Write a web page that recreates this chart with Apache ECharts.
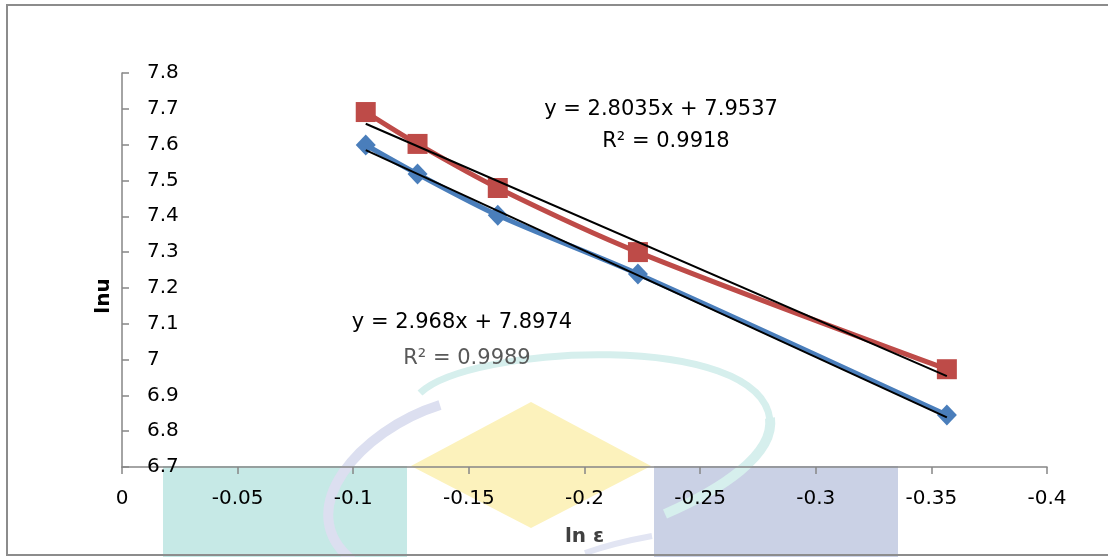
<!DOCTYPE html>
<html>
<head>
<meta charset="utf-8">
<script src="https://cdn.jsdelivr.net/npm/echarts@6/dist/echarts.min.js"></script>
<style>
  html, body { margin: 0; padding: 0; background: #ffffff; }
  #chart { width: 1108px; height: 557px; }
</style>
</head>
<body>
<div id="chart"></div>
<script>
// ln ε on the horizontal axis, ln u on the vertical axis
const lnStrain = [-0.1054, -0.1278, -0.1625, -0.2231, -0.3567];
const lnuBlue = [7.599, 7.518, 7.403, 7.239, 6.845];
const lnuRed = [7.691, 7.602, 7.479, 7.300, 6.973];

// linear trendlines: slope, intercept, R²
const fitSlope = [2.968, 2.8035];
const fitIntercept = [7.8974, 7.9537];
const fitR2 = ['0.9989', '0.9918'];

const xTickLabels = ['0', '-0.05', '-0.1', '-0.15', '-0.2', '-0.25', '-0.3', '-0.35', '-0.4'];
const yTickLabels = ['6.7', '6.8', '6.9', '7', '7.1', '7.2', '7.3', '7.4', '7.5', '7.6', '7.7', '7.8'];

const FONT = '"DejaVu Sans", sans-serif';

const pairs = ys => lnStrain.map((x, i) => [x, ys[i]]);
const trend = k => {
  const x0 = lnStrain[0], x1 = lnStrain[lnStrain.length - 1];
  return [[x0, fitSlope[k] * x0 + fitIntercept[k]], [x1, fitSlope[k] * x1 + fitIntercept[k]]];
};

const eqText = k => 'y = ' + fitSlope[k] + 'x + ' + fitIntercept[k];
const r2Text = k => 'R\u00B2 = ' + fitR2[k];

function label(text, x, y, size, color, weight) {
  return {
    type: 'text', x: x, y: y, z: 50,
    style: {
      text: text, fill: color, fontSize: size, fontFamily: FONT, fontWeight: weight || 'normal',
      align: 'center', verticalAlign: 'middle', textAlign: 'center', textVerticalAlign: 'middle'
    }
  };
}

// faint emblem behind the plot
const emblem = [
  { type: 'rect', z: -10, shape: { x: 163, y: 466, width: 244, height: 95 }, style: { fill: '#c6e9e6' } },
  { type: 'rect', z: -10, shape: { x: 654, y: 466, width: 244, height: 95 }, style: { fill: '#cad1e5' } },
  { type: 'polygon', z: -10, shape: { points: [[411, 466], [531, 402], [651, 466], [531, 528]] }, style: { fill: '#fcf2bc' } },
  { type: 'bezierCurve', z: -9, shape: { x1: 420, y1: 393, cpx1: 470, cpy1: 345, cpx2: 760, cpy2: 330, x2: 770, y2: 420 },
    style: { stroke: '#d6efed', lineWidth: 7, fill: null } },
  { type: 'bezierCurve', z: -9, shape: { x1: 770, y1: 418, cpx1: 775, cpy1: 455, cpx2: 720, cpy2: 490, x2: 665, y2: 514 },
    style: { stroke: '#d6efed', lineWidth: 10, fill: null } },
  { type: 'bezierCurve', z: -9, shape: { x1: 440, y1: 405, cpx1: 360, cpy1: 430, cpx2: 290, cpy2: 510, x2: 352, y2: 560 },
    style: { stroke: '#dcdff0', lineWidth: 10, fill: null } },
  { type: 'bezierCurve', z: -9, shape: { x1: 585, y1: 553, cpx1: 605, cpy1: 546, cpx2: 630, cpy2: 540, x2: 652, y2: 536 },
    style: { stroke: '#e2e5f3', lineWidth: 6, fill: null } }
];

const chart = echarts.init(document.getElementById('chart'), null, { renderer: 'canvas' });

chart.setOption({
  animation: false,
  backgroundColor: '#ffffff',
  grid: { left: 122, right: 61, top: 73, bottom: 90 },
  xAxis: {
    type: 'value',
    min: -0.4, max: 0, interval: 0.05,
    inverse: true,
    name: 'ln \u03B5',
    nameLocation: 'middle',
    nameGap: 60,
    nameTextStyle: { fontFamily: FONT, fontSize: 20, fontWeight: 'bold', color: '#404040' },
    axisLine: { show: true, onZero: false, lineStyle: { color: '#868686', width: 1.5 } },
    axisTick: { show: true, inside: false, length: 7, lineStyle: { color: '#868686', width: 1.5 } },
    axisLabel: {
      margin: 22, fontFamily: FONT, fontSize: 20, color: '#000000',
      formatter: v => xTickLabels[Math.round(-v / 0.05)]
    },
    splitLine: { show: false }
  },
  yAxis: {
    type: 'value',
    min: 6.7, max: 7.8, interval: 0.1,
    name: 'lnu',
    nameLocation: 'middle',
    nameGap: 8,
    nameTextStyle: { fontFamily: FONT, fontSize: 20, fontWeight: 'bold', color: '#000000', padding: [0, 52, 0, 0] },
    axisLine: { show: true, onZero: false, lineStyle: { color: '#868686', width: 1.5 } },
    axisTick: { show: true, inside: true, length: 7, lineStyle: { color: '#868686', width: 1.5 } },
    axisLabel: {
      inside: true, margin: 25, fontFamily: FONT, fontSize: 20, color: '#000000',
      formatter: v => yTickLabels[Math.round((v - 6.7) / 0.1)]
    },
    splitLine: { show: false }
  },
  series: [
    {
      name: 'lnu (blue)', type: 'line', data: pairs(lnuBlue), smooth: 0.3,
      symbol: 'diamond', symbolSize: [20, 21],
      lineStyle: { color: '#4a7ebb', width: 5 },
      itemStyle: { color: '#4a7ebb' }, z: 3
    },
    {
      name: 'lnu (red)', type: 'line', data: pairs(lnuRed), smooth: 0.3,
      symbol: 'rect', symbolSize: 20,
      lineStyle: { color: '#be4b48', width: 5 },
      itemStyle: { color: '#be4b48' }, z: 4
    },
    {
      name: 'trend blue', type: 'line', data: trend(0), symbol: 'none',
      lineStyle: { color: '#000000', width: 2 }, z: 5
    },
    {
      name: 'trend red', type: 'line', data: trend(1), symbol: 'none',
      lineStyle: { color: '#000000', width: 2 }, z: 5
    }
  ],
  graphic: emblem.concat([
    label(eqText(1), 661, 110, 21, '#000000'),
    label(r2Text(1), 666, 142, 21, '#000000'),
    label(eqText(0), 462, 323, 21, '#000000'),
    label(r2Text(0), 467, 359, 21, '#595959'),
    { type: 'rect', z: 60, shape: { x: 7, y: 5, width: 1130, height: 550 },
      style: { fill: null, stroke: '#8c8c8c', lineWidth: 2 } }
  ])
});
</script>
</body>
</html>
